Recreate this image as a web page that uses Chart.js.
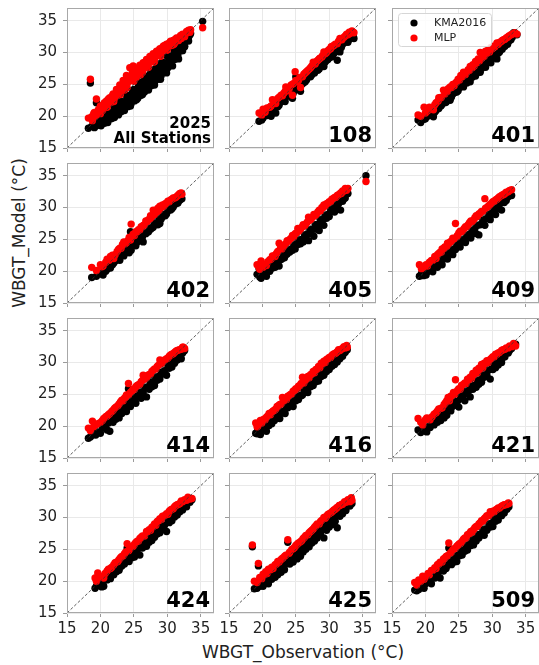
<!DOCTYPE html>
<html>
<head>
<meta charset="utf-8">
<script src="https://cdn.jsdelivr.net/npm/chart.js@4.4.0/dist/chart.umd.min.js"></script>
<style>
  html, body { margin: 0; padding: 0; background: #fff; }
  #fig { position: relative; width: 539px; height: 665px; overflow: hidden; font-family: "DejaVu Sans", sans-serif; color: #222; }
  #fig canvas { position: absolute; }
  .ytitle { position: absolute; left: 19px; top: 233px; transform: translate(-50%, -50%) rotate(-90deg); font-size: 17px; white-space: nowrap; }
  .xtitle { position: absolute; left: 303px; top: 652px; transform: translate(-50%, -50%); font-size: 17px; white-space: nowrap; }
</style>
</head>
<body>
<div id="fig">
  <div class="ytitle">WBGT_Model (°C)</div>
  <div class="xtitle">WBGT_Observation (°C)</div>
</div>
<script>
// each row: [observation, KMA2016, MLP]
const stAll = [
  [18.2,18.1,19.7],[18.5,25.2,25.8],[18.7,18.4,19.9],[19.0,18.6,20.4],[19.2,18.9,20.0],[19.4,22.1,22.7],
  [19.6,18.7,20.6],[19.9,19.2,21.2],[20.0,19.9,20.4],[20.1,18.5,20.9],[20.4,19.6,21.8],[20.6,18.9,21.3],
  [20.9,19.8,22.4],[21.0,20.6,21.4],[21.1,19.0,21.7],[21.4,20.3,22.9],[21.6,19.6,22.2],[21.9,20.7,23.5],
  [22.0,21.5,22.3],[22.1,19.8,22.8],[22.4,21.2,24.2],[22.6,20.3,23.3],[22.9,21.6,24.9],[23.0,22.4,23.4],
  [23.1,20.7,24.0],[23.4,22.0,25.6],[23.6,21.1,24.5],[23.9,22.5,26.4],[24.0,23.3,24.5],[24.1,21.5,25.3],
  [24.4,22.9,27.6],[24.6,22.0,26.0],[24.9,23.4,27.9],[25.0,24.2,25.5],[25.1,22.4,26.6],[25.4,23.8,27.3],
  [25.6,22.8,26.9],[25.9,24.3,28.0],[26.0,25.3,26.5],[26.1,23.3,27.2],[26.4,24.8,28.4],[26.6,23.8,27.8],
  [26.9,25.2,28.9],[27.0,26.3,27.6],[27.1,24.3,28.2],[27.4,25.7,29.4],[27.6,24.8,28.7],[27.9,26.2,29.8],
  [28.0,27.3,28.5],[28.1,25.3,29.1],[28.4,26.7,30.2],[28.6,25.8,29.6],[28.9,27.2,30.6],[29.0,28.3,29.4],
  [29.1,26.4,30.0],[29.4,27.8,31.0],[29.6,27.0,30.4],[29.9,28.4,31.3],[30.0,29.4,30.4],[30.1,27.6,30.8],
  [30.4,29.0,31.6],[30.6,28.2,31.1],[30.9,29.6,31.9],[31.0,30.4,31.3],[31.1,28.9,31.5],[31.4,30.2,32.2],
  [31.6,29.6,31.9],[31.9,30.8,32.4],[32.0,31.5,32.3],[32.1,30.3,32.2],[32.4,31.4,32.8],[32.6,31.0,32.6],
  [32.9,31.9,33.1],[33.0,32.5,33.2],[33.2,32.4,33.3],[33.5,33.0,33.6],[35.3,34.9,33.9],
  [18.8,18.4,19.3],[19.1,18.2,20.6],[19.4,18.5,20.2],[19.7,19.1,21.0],[20.0,18.9,21.6],[20.3,19.8,20.9],
  [20.6,19.5,22.1],[20.9,19.2,21.8],[21.2,20.5,22.7],[21.5,20.0,22.3],[21.8,19.7,23.2],[22.1,21.4,23.0],
  [22.4,20.6,23.8],[22.7,20.2,23.4],[23.0,21.9,24.3],[23.3,21.2,24.9],[23.6,20.9,24.1],[23.9,23.2,25.5],
  [24.2,22.0,26.2],[24.5,21.6,25.6],[24.8,23.9,26.9],[25.1,23.1,27.4],[25.4,22.6,26.1],[25.7,24.9,27.6],
  [26.0,23.9,27.9],[26.3,23.4,26.9],[26.6,25.8,28.4],[26.9,24.6,28.1],[27.2,24.1,27.7],[27.5,26.7,29.1],
  [27.8,25.5,29.3],[28.1,24.9,28.6],[28.4,27.6,29.9],[28.7,26.3,30.3],[29.0,25.8,29.6],[29.3,28.5,30.7],
  [29.6,27.4,31.1],[29.9,26.8,30.4],[30.2,29.5,31.4],[30.5,28.3,31.8],[30.8,27.9,31.2],[31.1,30.4,32.0],
  [31.4,29.3,32.3],[31.7,29.0,31.9],[32.0,31.2,32.7],[32.3,30.3,32.9],[32.6,30.9,32.5],[32.9,32.4,33.3],
  [33.2,31.8,33.5],[33.4,32.8,33.2]
];
const st108 = [
  [19.5,19.2,20.5],[20.1,19.7,21.1],[20.4,20.2,20.6],[21.3,20.0,21.6],[21.5,21.2,22.6],[22.0,20.5,22.0],
  [22.3,21.5,22.8],[22.8,22.3,23.3],[23.2,22.6,23.6],[23.5,23.9,24.6],[23.8,23.2,24.0],[24.3,23.0,24.9],
  [24.5,22.8,23.3],[24.9,24.6,27.0],[25.0,26.2,25.6],[25.4,24.5,25.6],[25.7,23.9,24.5],[26.0,25.1,26.2],
  [26.4,25.4,26.8],[26.8,26.1,27.2],[27.2,26.2,27.6],[27.6,26.8,28.5],[27.9,27.3,28.2],[28.3,27.2,28.8],
  [28.6,27.9,29.1],[29.0,28.1,29.5],[29.2,27.8,30.1],[29.6,28.8,30.0],[30.0,29.2,30.5],[30.3,29.3,30.9],
  [30.7,29.9,31.1],[31.2,28.8,31.4],[31.6,30.1,32.2],[31.9,31.1,32.0],[32.4,31.8,32.6],[32.8,31.6,32.8],
  [33.1,32.4,33.0],[33.6,32.8,33.2],[33.7,32.2,33.1],
  [19.9,19.4,20.2],[20.7,20.1,21.3],[21.1,20.6,21.4],[21.8,21.0,22.3],[22.5,21.7,23.0],[23.0,22.4,23.2],
  [23.4,22.3,23.9],[24.0,23.4,24.3],[24.6,23.6,25.1],[25.2,24.2,25.4],[25.6,24.9,26.1],[26.2,25.3,26.6],
  [26.6,25.7,27.0],[27.0,26.4,27.4],[27.4,26.5,27.9],[27.8,26.8,28.3],[28.1,27.5,28.6],[28.5,27.4,29.0],
  [28.9,28.2,29.3],[29.4,28.5,29.8],[29.8,28.9,30.3],[30.2,29.6,30.6],[30.5,29.4,31.0],[30.9,30.1,31.3],
  [31.4,30.5,31.8],[31.8,30.8,32.1],[32.2,31.5,32.4],[32.6,31.9,32.9],[33.0,32.1,33.2],[33.4,32.6,33.4]
];
const st401 = [
  [18.9,19.4,20.2],[19.8,19.5,21.4],[20.3,20.0,20.8],[21.2,19.9,21.0],[21.6,20.9,22.1],[22.0,21.2,22.9],
  [22.4,21.7,23.0],[22.7,22.4,24.1],[23.1,22.2,23.8],[23.4,22.9,24.3],[23.7,22.5,24.6],[24.1,23.5,25.0],
  [24.5,23.8,25.2],[24.9,24.0,25.8],[25.3,24.8,26.4],[25.7,24.6,26.9],[26.0,25.3,26.6],[26.4,25.7,27.3],
  [26.7,25.4,27.8],[27.1,26.5,28.1],[27.5,26.3,28.6],[27.9,27.0,29.0],[28.2,26.9,30.0],[28.6,27.8,29.5],
  [29.0,27.7,30.2],[29.4,28.6,30.4],[29.8,28.4,30.8],[30.2,29.5,31.0],[30.7,29.0,31.5],[31.1,30.1,31.6],
  [31.5,30.5,31.9],[31.9,31.0,32.1],[32.3,31.3,32.4],[32.8,32.0,32.8],[33.2,33.1,33.0],[33.7,32.8,32.9],
  [19.3,19.0,20.0],[20.0,19.6,20.5],[20.6,20.1,21.4],[21.4,20.6,21.8],[21.9,21.3,22.4],[22.3,21.6,22.9],
  [22.9,22.1,23.5],[23.3,22.6,23.9],[23.9,23.0,24.5],[24.3,23.7,24.8],[24.7,23.8,25.4],[25.1,24.5,25.7],
  [25.5,24.7,26.2],[25.9,25.2,26.5],[26.2,25.2,26.9],[26.6,25.9,27.2],[27.0,26.1,27.6],[27.3,26.7,27.9],
  [27.7,26.8,28.4],[28.1,27.4,28.7],[28.4,27.5,29.1],[28.8,28.1,29.4],[29.2,28.3,29.9],[29.6,28.9,30.1],
  [30.0,29.1,30.6],[30.4,29.7,30.9],[30.9,29.9,31.3],[31.3,30.6,31.7],[31.7,30.9,32.0],[32.1,31.5,32.3],
  [32.5,31.8,32.6],[33.0,32.4,32.9],[33.4,32.9,33.1]
];
const st402 = [
  [18.7,19.0,20.6],[20.0,19.6,21.0],[20.4,19.4,20.8],[21.0,20.3,21.9],[21.5,20.5,22.3],[22.0,21.3,22.0],
  [22.5,21.8,23.1],[22.9,21.7,23.6],[23.3,22.8,24.2],[23.5,22.4,24.6],[23.9,23.1,24.5],[24.3,22.9,25.3],
  [24.5,26.2,24.9],[24.6,23.3,27.4],[24.9,24.2,25.8],[25.3,24.0,26.2],[25.7,25.0,26.5],[26.1,24.8,27.0],
  [26.4,24.6,27.2],[26.8,25.9,27.9],[27.2,26.2,28.1],[27.5,26.6,28.7],[27.9,26.9,29.6],[28.3,27.5,29.3],
  [28.6,27.3,29.9],[28.9,27.5,30.2],[29.3,28.6,30.4],[29.7,28.7,30.6],[30.1,29.5,31.0],[30.5,29.6,31.2],
  [30.9,30.1,31.5],[31.3,30.6,31.6],[31.6,30.7,31.9],[31.9,31.2,32.2],[32.2,31.4,32.1],
  [19.4,19.2,20.1],[20.2,19.8,20.7],[20.8,20.0,21.4],[21.3,20.8,21.7],[21.8,21.0,22.5],[22.2,21.6,22.6],
  [22.7,21.9,23.4],[23.1,22.5,23.6],[23.7,22.8,24.3],[24.1,23.5,24.8],[24.7,23.9,25.4],[25.1,24.5,25.6],
  [25.5,24.6,26.2],[25.9,25.3,26.5],[26.3,25.4,27.0],[26.6,26.0,27.3],[27.0,26.1,27.8],[27.4,26.8,28.2],
  [27.7,26.8,28.5],[28.1,27.5,28.9],[28.5,27.6,29.3],[28.8,28.2,29.6],[29.1,28.2,30.0],[29.5,28.9,30.2],
  [29.9,29.0,30.7],[30.3,29.8,30.9],[30.7,29.8,31.3],[31.1,30.5,31.5],[31.5,30.8,31.8],[31.8,31.1,32.1],
  [32.1,31.7,32.3]
];
const st405 = [
  [19.2,19.5,21.0],[19.5,20.4,20.6],[19.8,18.9,21.6],[20.3,20.2,21.0],[20.6,19.2,20.9],[21.1,20.0,21.8],
  [21.5,20.5,22.4],[21.9,20.6,22.3],[22.3,21.2,23.1],[22.5,20.8,24.4],[22.9,21.9,23.5],[23.3,22.1,24.1],
  [23.7,22.7,24.8],[24.1,23.0,25.0],[24.5,23.3,25.6],[24.9,23.5,25.9],[25.3,24.2,26.7],[25.7,24.3,26.6],
  [26.1,24.6,27.3],[26.5,25.4,27.4],[26.9,24.8,28.5],[27.3,25.9,28.2],[27.7,25.5,28.9],[28.1,26.6,29.0],
  [28.5,26.4,29.6],[28.9,27.5,30.0],[29.2,27.2,30.4],[29.6,28.3,30.6],[30.0,28.6,30.9],[30.4,29.6,31.3],
  [30.8,29.3,31.6],[31.2,29.9,31.9],[31.7,29.6,32.3],[32.0,31.0,32.6],[32.4,31.5,33.0],[32.6,32.2,32.7],
  [35.5,35.0,34.1],
  [19.6,19.1,20.3],[20.1,19.7,20.6],[20.8,20.0,21.5],[21.3,20.8,21.9],[21.7,21.0,22.4],[22.1,21.6,22.8],
  [22.7,21.8,23.6],[23.1,22.5,23.8],[23.5,22.6,24.3],[23.9,23.3,24.7],[24.3,23.5,25.2],[24.7,24.1,25.4],
  [25.1,24.3,26.0],[25.5,24.9,26.3],[25.9,25.0,26.9],[26.3,25.7,27.1],[26.7,25.8,27.7],[27.1,26.5,28.0],
  [27.5,26.6,28.5],[27.9,27.3,28.7],[28.3,27.4,29.3],[28.7,28.1,29.5],[29.1,28.2,30.0],[29.4,28.8,30.3],
  [29.8,28.9,30.7],[30.2,29.7,30.9],[30.6,29.9,31.4],[31.0,30.4,31.6],[31.4,30.6,32.0],[31.8,31.2,32.2],
  [32.2,31.4,32.6],[32.8,32.2,33.0]
];
const st409 = [
  [19.1,19.2,21.0],[19.4,19.6,20.4],[20.1,19.4,21.0],[20.6,20.2,21.4],[21.1,19.9,21.7],[21.4,20.8,22.3],
  [21.8,20.6,22.6],[22.2,21.4,23.0],[22.5,21.0,23.5],[22.9,22.0,23.8],[23.3,21.9,24.4],[23.7,22.8,24.6],
  [24.1,22.6,25.2],[24.5,23.4,27.5],[24.8,23.9,25.6],[25.2,23.8,26.3],[25.6,24.7,26.4],[26.0,24.5,27.0],
  [26.4,25.5,27.3],[26.8,25.2,27.9],[27.2,26.3,28.0],[27.6,25.9,28.7],[28.0,25.7,29.0],[28.4,27.4,29.4],
  [28.9,27.2,31.4],[29.3,28.3,30.1],[29.7,28.1,30.5],[30.1,29.0,30.9],[30.5,28.9,31.2],[30.9,29.9,31.5],
  [31.4,29.6,31.9],[31.8,30.8,32.1],[32.1,31.1,32.4],[32.4,31.7,32.5],[32.9,31.9,32.8],
  [19.7,19.3,20.6],[20.3,19.9,20.8],[20.9,20.4,21.7],[21.6,21.0,22.0],[22.0,21.3,22.8],[22.4,21.9,23.0],
  [22.8,22.0,23.6],[23.2,22.7,23.9],[23.5,22.8,24.3],[23.9,23.4,24.7],[24.3,23.5,25.1],[24.7,24.1,25.4],
  [25.0,24.3,26.0],[25.4,24.9,26.2],[25.8,25.0,26.7],[26.2,25.6,27.0],[26.6,25.8,27.6],[27.0,26.4,27.8],
  [27.4,26.7,28.4],[27.8,27.2,28.6],[28.2,27.3,29.1],[28.6,28.0,29.4],[29.0,28.2,29.9],[29.5,28.9,30.3],
  [29.9,29.1,30.7],[30.3,29.7,31.0],[30.7,29.9,31.3],[31.1,30.5,31.7],[31.6,30.9,32.0],[32.0,31.5,32.3],
  [32.6,31.9,32.7]
];
const st414 = [
  [18.2,18.1,19.7],[18.8,18.6,20.8],[19.3,18.6,20.2],[20.0,18.9,20.6],[20.5,19.8,21.2],[21.0,19.4,21.6],
  [21.4,19.2,22.0],[21.9,20.6,22.5],[22.3,21.1,23.0],[22.8,21.3,23.5],[23.2,22.0,24.1],[23.6,22.6,24.4],
  [23.9,22.3,24.9],[24.2,25.9,26.7],[24.5,23.1,25.3],[24.9,23.9,25.8],[25.3,23.6,26.2],[25.7,24.6,26.5],
  [26.1,24.4,27.0],[26.4,25.3,28.0],[26.9,24.6,27.6],[27.3,25.8,28.1],[27.7,26.2,28.6],[28.1,26.4,29.0],
  [28.5,27.2,29.4],[28.9,27.4,30.4],[29.3,28.2,30.1],[29.9,28.0,30.6],[30.3,29.1,31.0],[30.7,29.3,31.3],
  [31.1,29.9,31.6],[31.5,30.4,31.9],[32.1,30.6,32.1],[32.4,31.7,32.4],[32.6,31.9,32.2],
  [18.5,18.3,19.3],[19.0,18.9,19.9],[19.6,19.1,20.4],[20.3,19.7,20.9],[20.8,20.2,21.5],[21.2,20.5,21.8],
  [21.7,21.1,22.3],[22.1,21.4,22.8],[22.6,22.0,23.2],[23.0,22.3,23.8],[23.4,22.9,24.0],[23.8,23.0,24.6],
  [24.2,23.6,24.9],[24.7,23.9,25.5],[25.1,24.5,25.8],[25.5,24.7,26.4],[25.9,25.3,26.6],[26.3,25.4,27.2],
  [26.7,26.1,27.4],[27.1,26.2,28.0],[27.5,26.9,28.2],[27.9,27.0,28.8],[28.3,27.7,29.0],[28.7,27.8,29.6],
  [29.1,28.5,29.8],[29.6,28.7,30.4],[30.1,29.5,30.7],[30.5,29.7,31.2],[30.9,30.3,31.4],[31.3,30.5,31.8],
  [31.8,31.2,32.0],[32.3,31.5,32.4]
];
const st416 = [
  [19.0,18.9,20.5],[19.3,19.4,20.0],[19.7,18.7,20.9],[20.2,19.5,21.1],[20.6,19.2,21.4],[21.0,20.1,22.0],
  [21.4,20.4,22.2],[21.8,20.9,22.5],[22.2,21.3,23.1],[22.6,21.2,23.4],[23.0,22.2,24.5],[23.4,22.0,24.3],
  [23.8,22.9,24.7],[24.2,23.3,25.0],[24.6,23.1,25.5],[25.0,24.0,25.9],[25.4,24.2,26.3],[25.8,24.8,26.7],
  [26.0,24.9,27.7],[26.4,25.5,27.2],[26.8,25.3,27.8],[27.2,26.2,28.1],[27.6,26.4,28.6],[28.0,27.0,28.9],
  [28.4,27.1,29.4],[28.8,27.8,29.9],[29.2,28.0,30.2],[29.6,28.6,30.5],[30.0,28.9,30.8],[30.4,29.4,31.1],
  [30.8,29.7,31.4],[31.2,30.1,31.7],[31.6,30.6,31.9],[32.0,31.0,32.2],[32.4,31.6,32.3],[32.7,32.0,32.4],
  [19.2,18.8,19.9],[19.9,19.5,20.5],[20.4,19.9,21.0],[20.8,20.2,21.6],[21.2,20.8,21.8],[21.6,20.9,22.4],
  [22.0,21.5,22.7],[22.4,21.6,23.2],[22.8,22.3,23.5],[23.2,22.4,24.0],[23.6,23.1,24.2],[24.0,23.2,24.8],
  [24.4,23.9,25.1],[24.8,24.0,25.6],[25.2,24.7,25.9],[25.6,24.8,26.4],[26.2,25.7,26.8],[26.6,25.8,27.4],
  [27.0,26.5,27.6],[27.4,26.6,28.2],[27.8,27.3,28.4],[28.2,27.4,29.0],[28.6,28.1,29.2],[29.0,28.2,29.8],
  [29.4,28.9,30.0],[29.8,29.0,30.6],[30.2,29.7,30.8],[30.6,29.8,31.3],[31.0,30.5,31.5],[31.4,30.7,32.0],
  [31.8,31.3,32.1],[32.2,31.5,32.5],[32.6,32.2,32.7]
];
const st421 = [
  [18.9,19.4,21.2],[19.3,19.0,20.6],[20.0,19.6,21.0],[20.2,19.1,21.3],[20.7,19.8,21.0],[21.3,20.2,21.9],
  [21.8,20.6,22.4],[22.3,20.9,22.8],[22.8,21.3,23.4],[23.2,21.7,24.0],[23.4,22.8,24.5],[23.8,22.4,24.7],
  [24.2,23.2,25.3],[24.5,23.9,27.3],[25.0,23.0,25.9],[25.4,24.3,26.4],[25.9,24.0,26.8],[26.3,25.1,27.4],
  [26.7,24.6,27.7],[27.1,25.8,28.3],[27.6,26.1,28.8],[28.0,26.6,29.1],[28.4,26.9,29.7],[28.8,27.7,29.9],
  [29.2,28.0,30.3],[29.7,27.4,30.5],[30.1,28.9,30.9],[30.5,29.2,31.3],[30.9,29.6,31.5],[31.4,30.0,31.9],
  [31.9,30.9,32.1],[32.4,31.5,32.3],[32.9,32.2,32.5],[33.5,32.9,32.6],
  [19.6,19.3,20.2],[20.4,19.9,21.2],[21.0,20.3,21.5],[21.6,21.1,22.1],[22.0,21.3,22.7],[22.5,22.0,22.9],
  [23.0,22.2,23.7],[23.6,23.0,24.0],[24.0,23.1,24.8],[24.4,23.8,25.0],[24.8,23.9,25.6],[25.2,24.7,25.8],
  [25.6,24.8,26.5],[26.1,25.5,26.7],[26.5,25.6,27.3],[26.9,26.3,27.5],[27.3,26.4,28.1],[27.8,27.2,28.4],
  [28.2,27.3,29.0],[28.6,28.0,29.2],[29.0,28.1,29.8],[29.4,28.8,30.0],[29.9,29.0,30.7],[30.3,29.7,30.9],
  [30.7,29.9,31.3],[31.1,30.6,31.6],[31.6,30.8,32.0],[32.1,31.6,32.3],[32.6,31.9,32.6],[33.2,32.7,33.0]
];
const st424 = [
  [19.2,18.9,20.5],[19.6,19.5,21.3],[20.2,19.1,20.6],[20.5,19.2,20.5],[21.0,20.2,21.6],[21.5,20.4,22.0],
  [22.0,21.0,22.6],[22.4,21.5,23.0],[22.8,21.7,23.4],[23.2,22.4,23.9],[23.6,22.7,24.3],[24.0,25.2,25.9],
  [24.3,23.1,24.9],[24.7,23.7,25.4],[25.1,23.8,25.8],[25.5,24.5,26.3],[25.9,24.1,26.7],[26.3,25.2,27.1],
  [26.9,25.5,27.8],[27.3,26.1,28.1],[27.7,26.4,28.5],[28.1,26.9,29.0],[28.5,27.4,29.4],[28.9,27.6,29.8],
  [29.3,28.3,30.2],[29.9,27.8,30.6],[30.3,29.2,31.0],[30.7,29.5,31.3],[31.1,30.1,31.7],[31.5,30.4,32.0],
  [31.9,30.9,32.2],[32.3,31.2,32.5],[32.9,31.7,32.7],[33.4,32.4,32.9],[33.7,32.8,33.0],
  [19.4,19.2,20.0],[20.0,19.6,20.8],[20.7,20.2,21.2],[21.2,20.6,21.9],[21.7,21.3,22.2],[22.2,21.5,22.9],
  [22.6,22.1,23.1],[23.0,22.3,23.7],[23.4,22.9,24.0],[23.8,23.1,24.6],[24.2,23.7,24.8],[24.5,23.8,25.3],
  [24.9,24.4,25.5],[25.3,24.6,26.1],[25.7,25.2,26.3],[26.1,25.3,26.9],[26.6,26.1,27.1],[27.1,26.3,27.8],
  [27.5,27.0,28.0],[27.9,27.1,28.6],[28.3,27.8,28.8],[28.7,27.9,29.5],[29.1,28.6,29.7],[29.6,28.8,30.3],
  [30.1,29.6,30.5],[30.5,29.7,31.2],[30.9,30.4,31.4],[31.3,30.6,31.9],[31.7,31.2,32.1],[32.1,31.4,32.6],
  [32.6,32.1,32.8],[33.1,32.5,33.2]
];
const st425 = [
  [18.5,25.4,25.7],[18.8,18.8,20.0],[19.4,22.4,22.8],[19.6,19.2,20.6],[20.1,19.2,21.1],[20.5,19.8,21.5],
  [20.9,19.6,21.9],[21.4,20.3,22.2],[21.9,20.6,22.6],[22.3,21.0,23.1],[22.8,21.4,23.4],[23.3,21.8,23.9],
  [23.8,26.1,26.5],[24.1,22.7,24.6],[24.6,23.0,25.1],[24.8,24.0,25.3],[25.2,23.5,25.8],[25.7,23.9,26.2],
  [26.1,24.6,26.7],[26.5,25.0,27.2],[27.0,25.4,27.6],[27.4,26.0,28.0],[27.8,26.3,28.5],[28.2,26.8,29.0],
  [28.7,27.3,29.4],[29.2,26.8,30.0],[29.6,28.0,30.2],[30.0,28.5,30.6],[30.5,28.9,31.0],[30.9,29.4,31.3],
  [31.2,28.4,31.6],[31.6,30.2,31.9],[32.0,30.6,32.1],[32.5,31.1,32.4],[33.1,31.8,32.5],[33.4,32.2,32.7],
  [19.2,18.9,19.8],[19.9,19.6,20.4],[20.3,19.9,21.0],[20.7,20.2,21.2],[21.2,20.8,21.8],[21.6,21.0,22.0],
  [22.1,21.6,22.7],[22.5,21.8,23.0],[23.0,22.5,23.6],[23.5,22.7,24.1],[24.0,23.5,24.4],[24.4,23.6,25.0],
  [25.0,24.4,25.6],[25.4,24.6,26.0],[25.9,25.3,26.4],[26.3,25.5,26.9],[26.8,26.2,27.3],[27.2,26.4,27.8],
  [27.6,27.0,28.2],[28.0,27.2,28.7],[28.5,27.9,29.0],[28.9,28.1,29.6],[29.4,28.8,29.9],[29.8,29.0,30.5],
  [30.3,29.7,30.8],[30.7,29.9,31.2],[31.1,30.6,31.5],[31.5,30.8,31.9],[31.9,31.3,32.1],[32.3,31.6,32.5],
  [32.8,32.2,32.8],[33.3,32.6,33.1]
];
const st509 = [
  [18.4,18.6,19.8],[19.0,18.7,20.2],[19.6,19.0,20.8],[19.8,18.9,20.3],[20.4,19.8,21.2],[20.9,19.6,21.7],
  [21.4,20.5,22.1],[21.8,20.8,22.6],[22.2,20.5,23.0],[22.7,21.6,23.5],[23.1,22.0,23.9],[23.5,25.2,26.0],
  [23.9,22.6,24.6],[24.3,23.0,25.1],[24.7,23.1,25.5],[25.1,24.0,25.9],[25.5,24.1,26.3],[25.9,24.7,26.8],
  [26.3,24.9,27.3],[26.8,25.6,27.8],[27.2,25.7,28.1],[27.6,26.3,28.6],[28.0,26.8,29.0],[28.4,27.3,29.5],
  [28.8,27.2,29.8],[29.2,28.0,30.3],[29.7,28.5,30.9],[30.1,28.6,31.0],[30.5,29.4,31.2],[30.9,29.6,31.5],
  [31.4,30.3,31.8],[31.8,30.7,32.0],[32.2,31.3,32.1],[32.5,31.7,32.2],
  [18.7,18.5,19.4],[19.3,19.0,20.0],[20.0,19.6,20.7],[20.6,20.0,21.0],[21.1,20.6,21.7],[21.6,20.9,22.0],
  [22.0,21.5,22.7],[22.5,21.7,23.0],[22.9,22.4,23.6],[23.3,22.5,24.0],[23.7,23.2,24.4],[24.1,23.3,24.9],
  [24.5,24.0,25.2],[24.9,24.1,25.7],[25.3,24.8,26.0],[25.7,24.9,26.6],[26.1,25.6,26.8],[26.6,25.8,27.5],
  [27.0,26.5,27.7],[27.4,26.6,28.4],[27.8,27.3,28.6],[28.2,27.4,29.2],[28.6,28.1,29.4],[29.0,28.2,30.0],
  [29.5,29.0,30.3],[29.9,29.1,30.7],[30.3,29.8,30.9],[30.7,29.9,31.3],[31.1,30.6,31.5],[31.6,30.9,31.9],
  [32.0,31.5,32.0],[32.4,31.8,32.3]
];

const stationLabels = ['2025\nAll Stations', '108', '401', '402', '405', '409', '414', '416', '421', '424', '425', '509'];
const stationData = [stAll, st108, st401, st402, st405, st409, st414, st416, st421, st424, st425, st509];
const seriesNames = ['KMA2016', 'MLP'];
const seriesColors = ['#000000', '#ff0000'];
const tickValues = [15, 20, 25, 30, 35];
const axisRange = [15, 37];

// figure layout (px)
const colLeft = [67, 229, 392];
const rowTop = [7, 162, 317, 472];
const panelW = 147, panelH = 141;
const FONT = '"DejaVu Sans", sans-serif';

const panelDecor = {
  id: 'panelDecor',
  afterDraw(chart, args, opts) {
    const ctx = chart.ctx, a = chart.chartArea;
    ctx.save();
    ctx.strokeStyle = '#a8a8a8';
    ctx.lineWidth = 1;
    ctx.strokeRect(a.left + 0.5, a.top + 0.5, a.right - a.left - 1, a.bottom - a.top - 1);

    ctx.fillStyle = '#000';
    ctx.textAlign = 'right';
    ctx.textBaseline = 'alphabetic';
    const lines = opts.label.split('\n');
    if (lines.length > 1) {
      ctx.font = 'bold 15px ' + FONT;
      ctx.fillText(lines[0], a.right - 3, a.bottom - 20);
      ctx.fillText(lines[1], a.right - 3, a.bottom - 5);
    } else {
      ctx.font = 'bold 21px ' + FONT;
      ctx.fillText(lines[0], a.right - 4, a.bottom - 6);
    }

    if (opts.legend) {
      const bx = a.left + 6, by = a.top + 5, bw = 93, bh = 33;
      ctx.beginPath();
      ctx.roundRect(bx + 0.5, by + 0.5, bw, bh, 3);
      ctx.fillStyle = 'rgba(255,255,255,0.85)';
      ctx.fill();
      ctx.strokeStyle = '#d6d6d6';
      ctx.stroke();
      ctx.font = '11px ' + FONT;
      ctx.textAlign = 'left';
      ctx.textBaseline = 'middle';
      const items = [chart.data.datasets[2], chart.data.datasets[1]];
      items.forEach((ds, i) => {
        const cy = by + 10 + i * 15;
        ctx.beginPath();
        ctx.arc(bx + 16, cy, 3.6, 0, Math.PI * 2);
        ctx.fillStyle = ds.backgroundColor;
        ctx.fill();
        ctx.fillStyle = '#222';
        ctx.fillText(ds.label, bx + 36, cy);
      });
    }
    ctx.restore();
  }
};

const fig = document.getElementById('fig');

stationData.forEach((rows, idx) => {
  const r = Math.floor(idx / 3), c = idx % 3;
  const padL = c === 0 ? 67 : (r === 3 ? 14 : 6);
  const padB = r === 3 ? 42 : 8;
  const canvas = document.createElement('canvas');
  const w = padL + panelW + 4, h = 3 + panelH + padB;
  canvas.width = w; canvas.height = h;
  canvas.style.left = (colLeft[c] - padL) + 'px';
  canvas.style.top = (rowTop[r] - 3) + 'px';
  canvas.style.width = w + 'px'; canvas.style.height = h + 'px';
  fig.appendChild(canvas);

  const kmaPts = rows.map(p => ({ x: p[0], y: p[1] }));
  const mlpPts = rows.map(p => ({ x: p[0], y: p[2] }));

  const axis = (showTicks, size, isX) => ({
    type: 'linear',
    min: axisRange[0],
    max: axisRange[1],
    afterBuildTicks: s => { s.ticks = tickValues.map(v => ({ value: v })); },
    afterFit: s => {
      if (isX) s.height = size; else s.width = size;
      s.paddingTop = 0; s.paddingBottom = 0; s.paddingLeft = 0; s.paddingRight = 0;
    },
    ticks: { display: showTicks, color: '#222', font: { family: FONT, size: 15 }, padding: isX ? 3 : 6, maxRotation: 0 },
    grid: { color: '#e9e9e9', lineWidth: 1, tickLength: 4, tickColor: '#9a9a9a', drawTicks: true },
    border: { display: false }
  });

  new Chart(canvas, {
    type: 'scatter',
    data: {
      datasets: [
        {
          label: '1:1',
          data: [{ x: axisRange[0], y: axisRange[0] }, { x: axisRange[1], y: axisRange[1] }],
          showLine: true,
          borderColor: '#333',
          borderWidth: 0.8,
          borderDash: [3, 2],
          pointRadius: 0,
          order: 0
        },
        {
          label: seriesNames[1],
          data: mlpPts,
          backgroundColor: seriesColors[1],
          borderWidth: 0,
          pointRadius: 3.7,
          order: 1
        },
        {
          label: seriesNames[0],
          data: kmaPts,
          backgroundColor: seriesColors[0],
          borderWidth: 0,
          pointRadius: 3.7,
          order: 2
        }
      ]
    },
    options: {
      responsive: false,
      animation: false,
      devicePixelRatio: 1,
      layout: { padding: { top: 3, right: 4, left: 0, bottom: 0 } },
      scales: {
        x: axis(r === 3, padB, true),
        y: axis(c === 0, padL, false)
      },
      plugins: {
        legend: { display: false },
        tooltip: { enabled: false },
        panelDecor: { label: stationLabels[idx], legend: idx === 2 }
      }
    },
    plugins: [panelDecor]
  });
});
</script>
</body>
</html>
